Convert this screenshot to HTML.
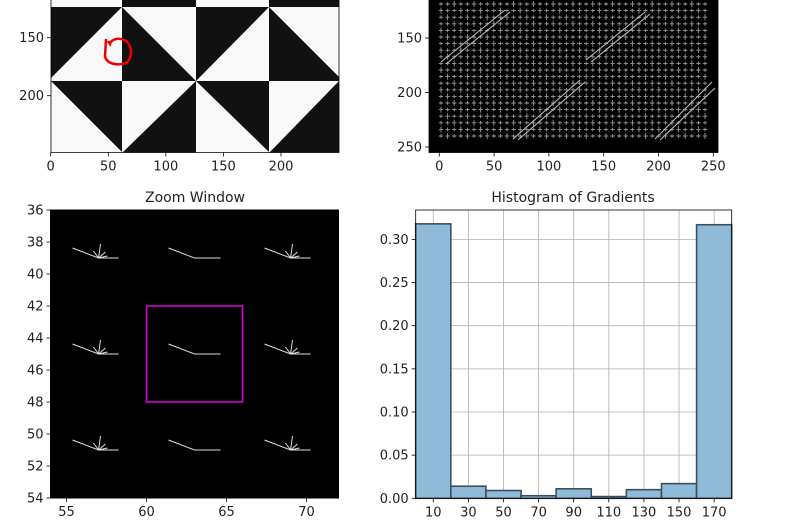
<!DOCTYPE html>
<html><head><meta charset="utf-8"><style>
body{margin:0;background:#fff;}
svg{display:block;font-family:"DejaVu Sans","Liberation Sans",sans-serif;}
</style></head><body>
<svg id="c" width="802" height="523" viewBox="0 0 802 523" xmlns="http://www.w3.org/2000/svg">
<rect width="802" height="523" fill="#fff"/>
<g>
<clipPath id="cl1"><rect x="51" y="0" width="288" height="152.5"/></clipPath>
<g clip-path="url(#cl1)">
<rect x="51" y="0" width="288" height="153" fill="#f8f8f8"/>
<rect x="122" y="0" width="74" height="7" fill="#111"/>
<rect x="269" y="0" width="70" height="7" fill="#111"/>
<polygon points="51,7 122,7 51,78" fill="#111"/>
<polygon points="122,7 122,81 196,81" fill="#111"/>
<polygon points="196,7 269,7 196,81" fill="#111"/>
<polygon points="269,7 269,81 343,81" fill="#111"/>
<polygon points="51,81 122,81 122,152" fill="#111"/>
<polygon points="196,81 196,153 122,153" fill="#111"/>
<polygon points="196,81 269,81 269,152" fill="#111"/>
<polygon points="339,81 339,153 269,153" fill="#111"/>
</g>
<path d="M106,39 L105,56 C106,64 118,66 126,63 C133,58 133,44 124,40 C117,37 111,40 110,44 L108,41" fill="none" stroke="#e00" stroke-width="2.5"/>
<path d="M51,0V152.5H339V0" fill="none" stroke="#000" stroke-width="0.8"/>
</g>
<g id="tl-ticks" font-size="13" fill="#222"></g>
<g>
<rect x="429" y="0" width="289" height="152.5" fill="#000" stroke="#000" stroke-width="0.8"/>
<g id="hog-grid" stroke="#9a9a9a" stroke-width="0.9"></g>
<g stroke="#bbb" stroke-width="1.1" fill="none">
<path d="M441,62 L505,10 M446,64 L510,12"/>
<path d="M513,139 L580,80 M518,140 L585,82"/>
<path d="M586,60 L645,12 M591,62 L650,14"/>
<path d="M655,139 L712,82 M660,140 L715,88"/>
</g>
</g>
<g id="tr-ticks" font-size="13" fill="#222"></g>
<text x="195" y="202" text-anchor="middle" font-size="14" fill="#222">Zoom Window</text>
<rect x="50.5" y="210" width="288" height="288" fill="#000" stroke="#000"/>
<g id="zoom-glyphs" stroke="#ddd" stroke-width="1" fill="none"></g>
<rect id="mag" fill="none" stroke="#e000e0" stroke-width="1.5"/>
<g id="bl-ticks" font-size="13" fill="#222"></g>
<text x="573" y="202" text-anchor="middle" font-size="14" fill="#222">Histogram of Gradients</text>
<g id="hist-grid" stroke="#b0b0b0" stroke-width="0.8"></g>
<g id="hist-bars"></g>
<rect x="415.7" y="210" width="316" height="288.3" fill="none" stroke="#000" stroke-width="0.8"/>
<g id="hist-ticks" font-size="13" fill="#222"></g>
</svg>
<script>
const binCenters = [10, 30, 50, 70, 90, 110, 130, 150, 170];
const binFreq = [0.318, 0.014, 0.009, 0.003, 0.011, 0.002, 0.010, 0.017, 0.317];
const yTicks = [0.00, 0.05, 0.10, 0.15, 0.20, 0.25, 0.30];
const zoomXTicks = [55, 60, 65, 70];
const zoomYTicks = [36, 38, 40, 42, 44, 46, 48, 50, 52, 54];
const tlXTicks = [0, 50, 100, 150, 200];
const tlYTicks = [150, 200];
const trXTicks = [0, 50, 100, 150, 200, 250];
const trYTicks = [150, 200, 250];
const cellCentersX = [57, 63, 69];
const cellCentersY = [39, 45, 51];

const NS = "http://www.w3.org/2000/svg";
function mk(tag, attrs, parent, txt){const e=document.createElementNS(NS,tag);for(const k in attrs)e.setAttribute(k,attrs[k]);if(txt!==undefined)e.textContent=txt;parent.appendChild(e);return e;}
const $ = id => document.getElementById(id);

function xTick(g, x, y0, label){
  const l=mk('line',{x1:x,x2:x,y1:y0,y2:y0+4,stroke:'#000','stroke-width':0.8},g);
  
  
  const t=mk('text',{x:x,y:y0+18,'text-anchor':'middle'},g,label);
  
  
}
function yTick(g, x0, y, label){
  const l=mk('line',{x1:x0-4,x2:x0,y1:y,y2:y,stroke:'#000','stroke-width':0.8},g);
  
  
  const t=mk('text',{x:x0-7,y:y+4.5,'text-anchor':'end'},g,label);
  
  
}

const tlx = v => 50.7 + v*1.1515, tly = v => 37.7 + (v-150)*1.16;
tlXTicks.forEach(v=>xTick($('tl-ticks'), tlx(v), 152.5, String(v)));
tlYTicks.forEach(v=>yTick($('tl-ticks'), 51, tly(v), String(v)));
const trx = v => 439.3 + v*1.096, try_ = v => 38 + (v-150)*1.09;
trXTicks.forEach(v=>xTick($('tr-ticks'), trx(v), 152.5, String(v)));
trYTicks.forEach(v=>yTick($('tr-ticks'), 429, try_(v), String(v)));
const hg=$('hog-grid');
let k=0;
for(let y=4;y<=140;y+=6.6){for(let x=441;x<=707;x+=6.6){
  k++;
  const hv=(k%3===0);
  const p=mk('path',{d:`M${x-2.2},${y}h4.4M${x},${y-(hv?3:1.8)}v${hv?6:3.6}`},hg);
  
  
}}
const zx = v => 50.5 + (v-54)*16, zy = v => 210 + (v-36)*16;
zoomXTicks.forEach(v=>xTick($('bl-ticks'), zx(v), 498, String(v)));
zoomYTicks.forEach(v=>yTick($('bl-ticks'), 50.5, zy(v), String(v)));
const m=$('mag');
m.setAttribute('x',zx(60));m.setAttribute('y',zy(42));m.setAttribute('width',zx(66)-zx(60));m.setAttribute('height',zy(48)-zy(42));
const zg=$('zoom-glyphs');
cellCentersY.forEach(cy=>cellCentersX.forEach(cx=>{
  const X=zx(cx),Y=zy(cy);
  let d=`M${X-26},${Y-10}L${X},${Y}H${X+(cx===63?26:20)}`;
  if(cx!==63){d+=`M${X},${Y}L${X+2},${Y-14}M${X},${Y}L${X-5},${Y-7}M${X},${Y}L${X+7},${Y-6}M${X},${Y}L${X+9},${Y-2}`;}
  const p=mk('path',{d:d},zg);
  
  
}));
const hx = v => 415.7 + v*316/180, hy = v => 498.3 - v*863;
const gg=$('hist-grid');
binCenters.forEach(v=>mk('line',{x1:hx(v),x2:hx(v),y1:210,y2:498.3},gg));
yTicks.forEach(v=>mk('line',{x1:415.7,x2:731.7,y1:hy(v),y2:hy(v)},gg));
const bg=$('hist-bars');
binCenters.forEach((c,i)=>{
  const r=mk('rect',{x:hx(c-10),y:hy(binFreq[i]),width:hx(c+10)-hx(c-10),height:hy(0)-hy(binFreq[i]),fill:'#8fbbd9',stroke:'#3c4f5e','stroke-width':1.6},bg);
  
  
});
binCenters.forEach(v=>xTick($('hist-ticks'), hx(v), 498.3, String(v)));
yTicks.forEach(v=>yTick($('hist-ticks'), 415.7, hy(v), v.toFixed(2)));
</script>
</body></html>
